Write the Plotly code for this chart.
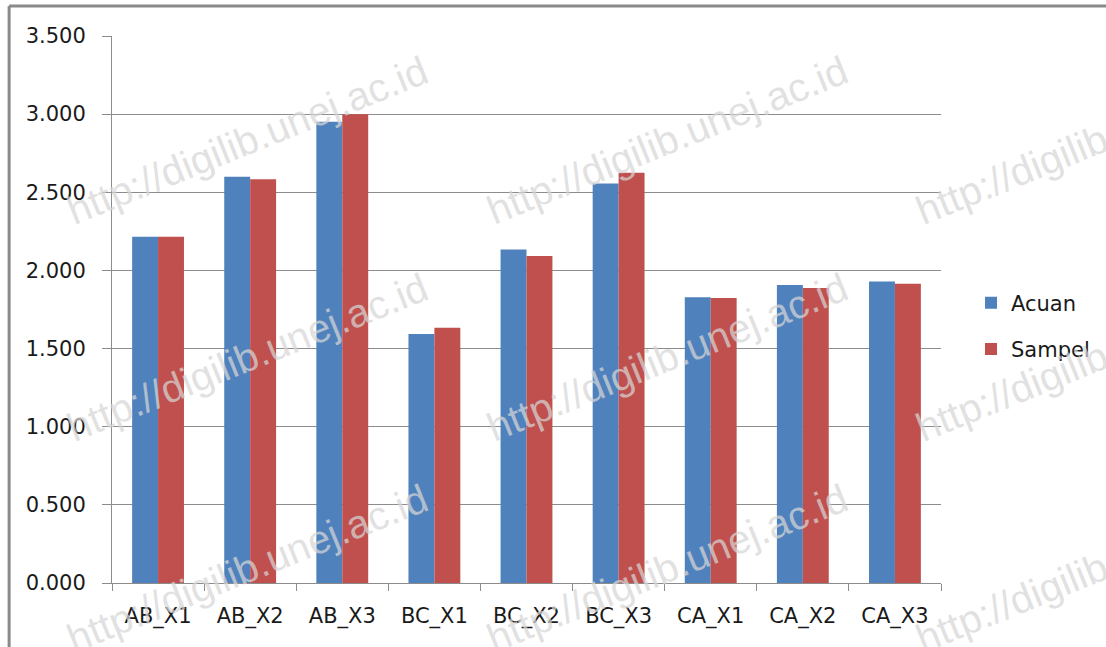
import plotly.graph_objects as go

categories = ["AB_X1", "AB_X2", "AB_X3", "BC_X1", "BC_X2", "BC_X3", "CA_X1", "CA_X2", "CA_X3"]
acuan = [2.215, 2.600, 2.951, 1.593, 2.134, 2.557, 1.829, 1.906, 1.929]
sampel = [2.215, 2.584, 3.000, 1.633, 2.093, 2.625, 1.823, 1.887, 1.914]
y_ticks = [0, 0.5, 1.0, 1.5, 2.0, 2.5, 3.0, 3.5]
watermark = "http://digilib.unej.ac.id"

W, H = 1106, 647
L, R, T, B = 112, 164, 36, 64
pw, ph = W - L - R, H - T - B

def px(x):
    return (x - L) / pw

def py(y):
    return (H - B - y) / ph

FONT = "DejaVu Sans"
GRID = "#8c8c8c"

fig = go.Figure()
fig.add_trace(go.Bar(x=categories, y=acuan, name="Acuan", marker_color="#4F81BD",
                     marker_line_width=0, legendgroup="a"))
fig.add_trace(go.Bar(x=categories, y=sampel, name="Sampel", marker_color="#C0504D",
                     marker_line_width=0, legendgroup="b"))

annotations = []
for cx in [248, 668, 1098]:
    for cy in [140, 357, 568]:
        annotations.append(dict(
            x=px(cx), y=py(cy), xref="paper", yref="paper", text=watermark,
            showarrow=False, textangle=-22,
            font=dict(family="Liberation Sans", size=40, color="rgba(214,214,214,0.72)"),
            xanchor="center", yanchor="middle"))

shapes = [
    dict(type="line", xref="paper", yref="paper", x0=px(9), x1=px(W + 5), y0=py(6), y1=py(6),
         line=dict(color="#8a8a8a", width=3)),
    dict(type="line", xref="paper", yref="paper", x0=px(9), x1=px(9), y0=py(6), y1=py(H + 5),
         line=dict(color="#8a8a8a", width=3)),
]

fig.update_layout(
    width=W, height=H,
    margin=dict(l=L, r=R, t=T, b=B),
    paper_bgcolor="white", plot_bgcolor="white",
    barmode="group", bargap=0.437, bargroupgap=0,
    font=dict(family=FONT, size=21, color="#1a1a1a"),
    showlegend=True,
    legend=dict(x=px(971), y=py(326), xanchor="left", yanchor="middle",
                font=dict(family=FONT, size=21, color="#1a1a1a"),
                tracegroupgap=16, bgcolor="rgba(0,0,0,0)"),
    annotations=annotations,
    shapes=shapes,
)
fig.update_xaxes(
    showline=True, linecolor=GRID, linewidth=1,
    ticks="outside", tickson="boundaries", ticklen=7, tickcolor=GRID,
    showgrid=False, tickfont=dict(family=FONT, size=21), ticklabelstandoff=14,
)
fig.update_yaxes(
    range=[0, 3.5], tickvals=y_ticks, tickformat=".3f",
    showline=True, linecolor=GRID, linewidth=1,
    ticks="outside", ticklen=9, tickcolor=GRID,
    showgrid=True, gridcolor=GRID, gridwidth=1, zeroline=False,
    tickfont=dict(family=FONT, size=21), ticklabelstandoff=12,
)

fig.write_html("out.html")
